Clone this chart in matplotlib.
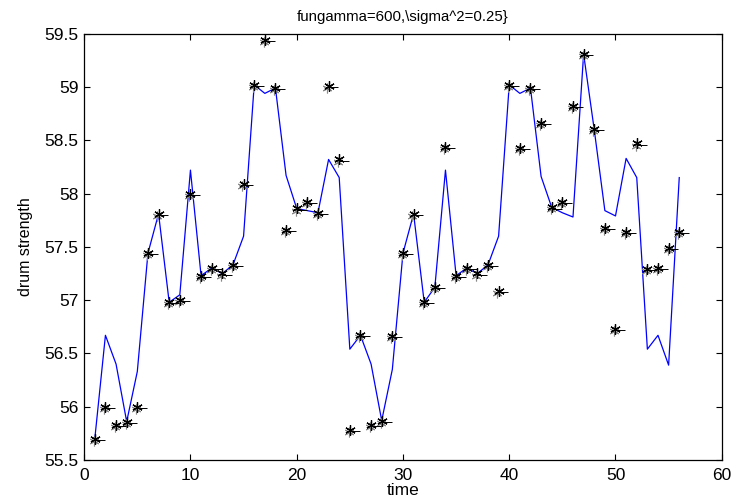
import matplotlib.pyplot as plt
import matplotlib.transforms as mtransforms
import numpy as np

plt.rcParams['font.family'] = ['Liberation Sans', 'DejaVu Sans']

# time steps
t = list(range(1, 57))

# measured drum strength (asterisks)
measured = [55.70, 56.00, 55.83, 55.86, 56.00, 57.44, 57.81, 56.98, 57.00, 58.00,
            57.23, 57.30, 57.25, 57.33, 58.09, 59.02, 59.44, 58.99, 57.66, 57.86,
            57.92, 57.82, 59.01, 58.32, 55.78, 56.67, 55.83, 55.87, 56.66, 57.44,
            57.81, 56.98, 57.12, 58.44, 57.23, 57.30, 57.25, 57.33, 57.09, 59.02,
            58.43, 58.99, 58.66, 57.87, 57.92, 58.82, 59.31, 58.61, 57.68, 56.73,
            57.64, 58.47, 57.29, 57.30, 57.49, 57.64]

# estimated drum strength (blue line)
estimated = [55.70, 56.67, 56.40, 55.86, 56.33, 57.44, 57.81, 56.98, 57.05, 58.22,
             57.23, 57.30, 57.25, 57.33, 57.60, 59.02, 58.94, 58.99, 58.17, 57.86,
             57.84, 57.82, 58.32, 58.15, 56.54, 56.67, 56.40, 55.87, 56.35, 57.44,
             57.81, 56.98, 57.12, 58.22, 57.23, 57.30, 57.25, 57.33, 57.60, 59.02,
             58.94, 58.99, 58.16, 57.87, 57.82, 57.78, 59.31, 58.60, 57.84, 57.79,
             58.33, 58.15, 56.54, 56.67, 56.39, 58.15]

fig = plt.figure(figsize=(7.32, 5.03), dpi=100)
ax = fig.add_axes([0.115, 0.0855, 0.871, 0.8475])

ax.plot(t, estimated, color='blue', linewidth=0.9)

# the scanned markers have a grey ghost and a little dash to the right
shadow = mtransforms.offset_copy(ax.transData, fig=fig, x=-0.8, y=-1.5, units='points')
dash = mtransforms.offset_copy(ax.transData, fig=fig, x=3.5, y=-0.8, units='points')
ax.plot(t, measured, linestyle='none', marker=(6, 2, 0), markersize=7,
        markeredgecolor='#8a8a8a', markeredgewidth=0.8, transform=shadow)
ax.plot(t, measured, linestyle='none', marker='_', markersize=7,
        markeredgecolor='black', markeredgewidth=0.7, transform=dash)
ax.plot(t, measured, linestyle='none', marker=(6, 2, 0), markersize=7.5,
        markeredgecolor='black', markeredgewidth=0.9)

ax.set_xlim(0, 60)
ax.set_ylim(55.5, 59.5)
ax.set_xticks(np.arange(0, 61, 10))
ax.set_yticks(np.arange(55.5, 59.51, 0.5))
ax.set_yticklabels(['55.5', '56', '56.5', '57', '57.5', '58', '58.5', '59', '59.5'])
ax.tick_params(direction='in', top=True, right=True, length=4, labelsize=12.5)
ax.tick_params(axis='x', pad=6)
ax.tick_params(axis='y', pad=4)
for s in ax.spines.values():
    s.set_linewidth(0.9)

ax.set_title('fungamma=600,\\sigma^2=0.25}', fontsize=10.8, pad=9)
ax.set_xlabel('time', fontsize=12.5, labelpad=0)
ax.set_ylabel('drum strength', fontsize=11.5, labelpad=8)

fig.savefig('out.png', dpi=100)
